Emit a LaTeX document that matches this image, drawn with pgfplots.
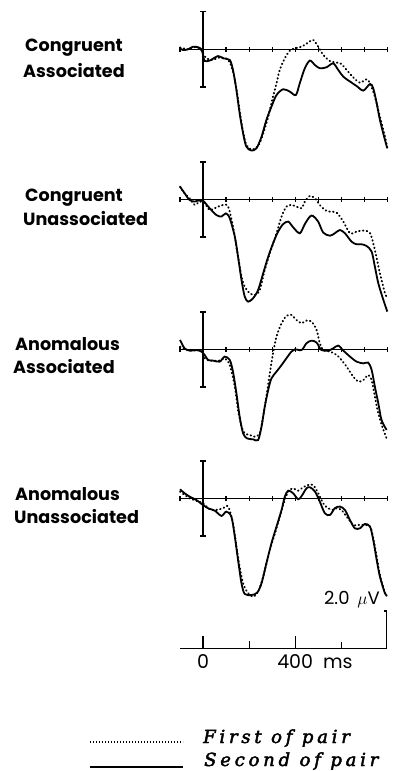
\documentclass[border=0pt]{standalone}
\usepackage{pgfplots}
\pgfplotsset{compat=1.18}
\usepackage{fontspec}
\newfontfamily\labfont{Poppins}
\newfontfamily\legfont[LetterSpace=21, FakeBold=2.5,
  ItalicFeatures={FakeBold=2.5}]{DejaVu Serif}

\pgfplotsset{
  panel/.style={anchor=south west, width=207.3pt, height=150pt, scale only axis,
    xmin=-100, xmax=800, ymin=-6, ymax=2, axis lines=none, clip=false},
  second/.style={black, line width=1.8pt, smooth, no markers},
  first/.style={black, line width=1.9pt, smooth, no markers, line cap=round,
    dash pattern=on 0.6pt off 3.2pt},
}

% zero line with 100 ms ticks and the +-2 uV bar at stimulus onset
\newcommand\baseaxis{%
  \draw[line width=1.5pt] (axis cs:-100,0) -- (axis cs:800,0);
  \pgfplotsinvokeforeach{-100,0,...,800}{%
    \draw[line width=1.2pt] (axis cs:##1,0) ++(0pt,-2.5pt) -- ++(0pt,5pt);}
  \draw[line width=1.6pt] (axis cs:0,-2) -- (axis cs:0,2);
  \draw[line width=1.4pt] (axis cs:0,2) ++(-3pt,0pt) -- ++(6pt,0pt);
  \draw[line width=1.4pt] (axis cs:0,-2) ++(-3pt,0pt) -- ++(6pt,0pt);
}

\begin{document}
\begin{tikzpicture}
\path[use as bounding box] (0pt,0pt) rectangle (396pt,-771pt);

% condition labels
\begin{scope}[font=\labfont\bfseries\fontsize{17.6}{20}\selectfont]
\node[anchor=base west, inner sep=0pt] at (25pt,-51pt) {Congruent};
\node[anchor=base west, inner sep=0pt] at (23pt,-77pt) {Associated};
\node[anchor=base west, inner sep=0pt] at (25pt,-201.5pt) {Congruent};
\node[anchor=base west, inner sep=0pt] at (23pt,-225pt) {Unassociated};
\node[anchor=base west, inner sep=0pt] at (15pt,-350.5pt) {Anomalous};
\node[anchor=base west, inner sep=0pt] at (13pt,-373.5pt) {Associated};
\node[anchor=base west, inner sep=0pt] at (15pt,-500pt) {Anomalous};
\node[anchor=base west, inner sep=0pt] at (14pt,-523pt) {Unassociated};
\end{scope}

% Congruent Associated
\begin{axis}[panel, at={(180pt,-161.8pt)}]
\baseaxis
\addplot[first] coordinates {
(-100,0.10) (-65,0.00) (-43,0.12) (-14,0.05) (0,-0.21) (14,-0.48) (43,-0.57)
(72,-0.43) (109,-0.57) (130,-1.19) (145,-2.10) (159,-3.30) (174,-4.40)
(188,-5.10) (210,-5.35) (225,-5.28) (246,-5.01) (275,-3.95) (290,-3.24)
(304,-2.52) (319,-1.81) (333,-1.10) (355,-0.48) (377,-0.07) (399,0.05)
(428,0.14) (457,0.36) (478,0.50) (500,0.14) (522,-0.30) (551,-0.62)
(580,-0.71) (601,-0.78) (623,-1.10) (652,-1.49) (681,-1.78) (710,-1.60)
(725,-1.81) (746,-2.52) (768,-3.59) (790,-4.66) (800,-5.28)};
\addplot[second] coordinates {
(-100,0.05) (-87,-0.04) (-65,0.00) (-43,0.14) (-22,0.11) (-7,0.00) (0,-0.30)
(7,-0.62) (29,-0.60) (65,-0.36) (87,-0.48) (116,-0.57) (130,-1.10)
(145,-2.17) (159,-3.42) (174,-4.48) (188,-5.19) (210,-5.40) (232,-5.28)
(254,-4.66) (275,-3.77) (297,-3.06) (319,-2.44) (348,-2.13) (377,-2.26)
(403,-2.44) (420,-1.81) (442,-1.01) (464,-0.60) (486,-0.84) (507,-1.01)
(536,-0.96) (565,-0.75) (587,-1.10) (609,-1.46) (638,-1.72) (667,-1.96)
(696,-2.20) (725,-1.85) (739,-2.08) (754,-2.88) (768,-3.77) (790,-4.84)
(800,-5.28)};
\end{axis}

% Congruent Unassociated
\begin{axis}[panel, at={(180pt,-311.8pt)}]
\baseaxis
\addplot[first] coordinates {
(-100,0.68) (-80,0.32) (-58,0.05) (-36,-0.30) (-14,-0.12) (7,-0.21)
(29,-0.57) (58,-0.43) (87,-0.30) (109,-0.39) (130,-1.46) (152,-3.06)
(167,-4.12) (181,-4.66) (203,-5.01) (225,-5.10) (246,-4.84) (268,-3.77)
(290,-2.88) (319,-1.81) (341,-0.92) (362,-0.39) (384,-0.30) (406,-0.39)
(428,-0.48) (442,-0.12) (464,0.18) (486,0.05) (507,-0.30) (529,-0.57)
(551,-0.66) (580,-0.71) (609,-1.19) (638,-1.81) (667,-1.72) (696,-1.67)
(725,-1.81) (746,-2.70) (768,-3.95) (790,-5.01) (797,-5.19)};
\addplot[second] coordinates {
(-100,0.68) (-80,0.32) (-58,-0.04) (-36,-0.12) (-14,-0.04) (0,-0.07)
(29,-0.48) (58,-0.84) (80,-0.92) (99,-0.75) (116,-1.01) (138,-1.99)
(152,-3.06) (167,-4.30) (181,-5.19) (196,-5.46) (217,-5.28) (239,-4.84)
(261,-3.95) (283,-3.06) (304,-2.35) (326,-1.72) (348,-1.32) (370,-1.19)
(391,-1.49) (420,-1.81) (442,-1.32) (464,-0.92) (478,-0.89) (500,-1.19)
(522,-1.78) (551,-1.94) (572,-1.81) (594,-1.64) (616,-1.81) (645,-2.26)
(667,-2.40) (688,-2.40) (710,-2.49) (732,-2.79) (746,-3.59) (761,-4.48)
(783,-5.37) (800,-5.99)};
\end{axis}

% Anomalous Associated
\begin{axis}[panel, at={(180pt,-461.8pt)}]
\baseaxis
\addplot[first] coordinates {
(-100,0.14) (-58,-0.07) (-7,-0.07) (7,-0.48) (29,-0.60) (72,-0.60)
(94,-0.48) (116,-0.84) (138,-1.99) (152,-3.24) (167,-4.12) (181,-4.48)
(203,-4.57) (225,-4.66) (246,-4.48) (261,-3.59) (275,-2.52) (290,-1.28)
(304,-0.21) (319,0.68) (341,1.39) (362,1.78) (384,1.83) (406,1.56)
(428,1.39) (449,1.53) (471,1.48) (493,1.03) (507,0.32) (522,-0.04)
(551,-0.12) (580,-0.30) (601,-0.57) (623,-0.92) (652,-1.46) (674,-1.72)
(696,-1.64) (717,-1.37) (732,-1.64) (746,-2.52) (761,-3.42) (783,-4.30)
(800,-4.84)};
\addplot[second] coordinates {
(-100,0.50) (-80,0.05) (-58,-0.07) (-29,-0.04) (-7,-0.12) (7,-0.30)
(22,-0.57) (43,-0.60) (72,-0.66) (94,-0.39) (116,-0.57) (130,-1.19)
(145,-2.35) (159,-3.59) (174,-4.48) (191,-4.75) (217,-4.80) (239,-4.84)
(254,-4.12) (268,-3.06) (283,-2.17) (297,-1.55) (319,-1.19) (341,-0.84)
(362,-0.48) (384,-0.12) (399,0.00) (428,-0.04) (449,0.32) (471,0.46)
(493,0.36) (514,-0.04) (543,-0.07) (565,0.05) (587,0.20) (609,-0.07)
(638,-0.39) (667,-0.66) (696,-0.75) (717,-0.71) (732,-1.10) (746,-1.99)
(761,-2.88) (775,-3.77) (797,-4.30)};
\end{axis}

% Anomalous Unassociated
\begin{axis}[panel, at={(180pt,-610.8pt)}]
\baseaxis
\addplot[first] coordinates {
(-100,0.36) (-58,0.00) (0,-0.27) (29,-0.59) (58,-0.62) (87,-0.53)
(109,-0.44) (130,-1.33) (145,-2.58) (159,-3.65) (174,-4.53) (191,-4.98)
(217,-5.25) (239,-4.98) (261,-4.18) (290,-2.76) (319,-1.60) (348,-0.36)
(370,0.36) (391,0.53) (413,0.41) (435,0.59) (457,0.71) (478,0.71)
(500,0.27) (522,-0.27) (543,-0.53) (565,-0.62) (580,-0.53) (601,-0.62)
(623,-0.98) (652,-1.42) (674,-1.42) (696,-1.42) (725,-1.51) (739,-2.13)
(754,-3.11) (768,-4.09) (790,-5.07)};
\addplot[second] coordinates {
(-100,0.48) (-80,0.27) (-58,0.09) (-29,-0.09) (0,-0.36) (22,-0.53)
(51,-0.66) (80,-0.94) (101,-0.71) (123,-0.98) (138,-2.04) (152,-3.29)
(167,-4.53) (181,-5.10) (210,-5.16) (235,-5.03) (254,-4.53) (275,-3.47)
(297,-2.40) (319,-1.51) (341,-0.62) (355,0.09) (370,0.41) (391,0.27)
(413,-0.05) (428,0.12) (449,0.53) (464,0.59) (486,0.36) (507,-0.18)
(529,-0.80) (551,-0.89) (572,-0.53) (594,-0.44) (616,-0.62) (638,-1.16)
(659,-1.60) (681,-1.60) (703,-1.37) (725,-1.51) (739,-2.22) (754,-3.29)
(768,-4.18) (790,-5.07) (800,-5.20)};
\end{axis}

% time and amplitude scale
\begin{axis}[anchor=south west, at={(180pt,-648.3pt)}, width=207.3pt,
  height=37.5pt, scale only axis, xmin=-100, xmax=800, ymin=0, ymax=2,
  axis lines=none, clip=false]
\draw[line width=1.4pt] (axis cs:-100,0) -- (axis cs:797,0) -- (axis cs:797,2) -- ++(-3pt,0pt);
\draw[line width=1.2pt] (axis cs:0,0) -- ++(0pt,12pt);
\draw[line width=1.2pt] (axis cs:200,0) -- ++(0pt,7pt);
\draw[line width=1.2pt] (axis cs:400,0) -- ++(0pt,12pt);
\draw[line width=1.2pt] (axis cs:600,0) -- ++(0pt,6pt);
\begin{scope}[font=\labfont\fontsize{19}{22}\selectfont]
\node[anchor=base, inner sep=0pt] at (axis cs:0,0) [yshift=-20pt] {0};
\node[anchor=base, inner sep=0pt] at (axis cs:400,0) [yshift=-20pt] {400};
\node[anchor=base west, inner sep=0pt] at (axis cs:520,0) [yshift=-20pt] {ms};
\end{scope}
\node[anchor=base east, inner sep=0pt, font=\labfont\fontsize{18}{20}\selectfont]
  at (axis cs:768,2.31) {2.0\,\ $\mu$V};
\end{axis}

% key
\draw[line width=1.5pt, dash pattern=on 1.2pt off 1.8pt] (90pt,-742pt) -- (183pt,-742pt);
\draw[line width=1.5pt] (90pt,-767pt) -- (183pt,-767pt);
\begin{scope}[font=\legfont\itshape\fontsize{18}{20}\selectfont]
\node[anchor=base west, inner sep=0pt] at (203pt,-743pt) {First of pair};
\node[anchor=base west, inner sep=0pt] at (204pt,-766pt) {Second of pair};
\end{scope}
\end{tikzpicture}
\end{document}
